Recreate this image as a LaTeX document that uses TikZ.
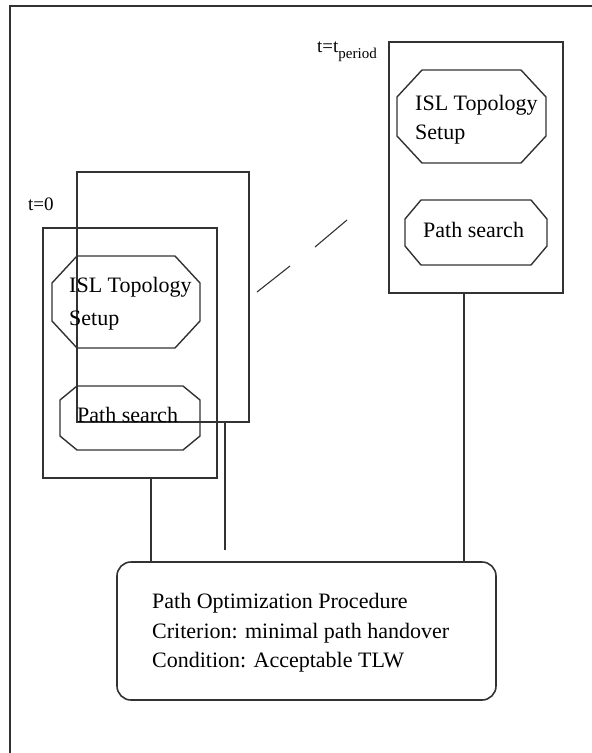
\documentclass[tikz,border=0pt]{standalone}
\usepackage{fontspec}
\setmainfont{Liberation Serif}
\definecolor{ink}{RGB}{50,50,50}
\tikzset{
  frame/.style={draw=ink, line width=1.6pt, rectangle, inner sep=0pt, outer sep=0pt},
  slot/.style={rectangle, inner sep=0pt, outer sep=0pt},
  oct/.style={draw=ink, line width=1.4pt, line join=miter},
  wire/.style={draw=ink, line width=1.6pt},
  hint/.style={draw=ink, line width=1.1pt},
  lbl/.style={inner sep=0pt, anchor=base west, font=\fontsize{22}{26}\selectfont},
  tlbl/.style={inner sep=0pt, anchor=base west, font=\fontsize{19}{22}\selectfont},
}
% octagon outline drawn around a named (invisible) node: node, chamfer x, chamfer y
\newcommand\octoutline[3]{%
  \draw[oct] ([xshift=#2]#1.north west) -- ([xshift=-#2]#1.north east)
    -- ([yshift=-#3]#1.north east) -- ([yshift=#3]#1.south east)
    -- ([xshift=-#2]#1.south east) -- ([xshift=#2]#1.south west)
    -- ([yshift=#3]#1.south west) -- ([yshift=-#3]#1.north west) -- cycle;}
\begin{document}
\begin{tikzpicture}[x=1pt,y=-1pt]
  \useasboundingbox (0,0) rectangle (592,753);

  % page frame (left and top edges)
  \draw[wire] (10,753) -- (10,6) -- (592,6);

  % stage at t = t_period
  \node[frame, minimum width=174pt, minimum height=251pt] (late) at (476,167.5) {};
  \node[tlbl] (tlate) at (317,52) {t=t\raisebox{-6pt}{\fontsize{15}{17}\selectfont period}};
  \node[slot, minimum width=149pt, minimum height=93pt] (islB) at (471.5,116.5) {};
  \octoutline{islB}{25pt}{27pt}
  \node[lbl] (islBa) at (415,110) {ISL Topology};
  \node[lbl] (islBb) at (415,139) {Setup};
  \node[slot, minimum width=142pt, minimum height=65pt] (psB) at (476,232.5) {};
  \octoutline{psB}{16pt}{19pt}
  \node[lbl] (psBt) at (423,237) {Path search};

  % stages starting at t = 0 (back and front frames)
  \node[frame, minimum width=172pt, minimum height=250pt] (back) at (163,297) {};
  \node[frame, minimum width=174pt, minimum height=250pt] (front) at (130,353) {};
  \node[tlbl] (tzero) at (28,210) {t=0};
  \node[slot, minimum width=148pt, minimum height=92pt] (islA) at (126,302) {};
  \octoutline{islA}{25pt}{27pt}
  \node[lbl] (islAa) at (69,292) {ISL Topology};
  \node[lbl] (islAb) at (69,325) {Setup};
  \node[slot, minimum width=140pt, minimum height=64pt] (psA) at (130,418) {};
  \octoutline{psA}{17pt}{14pt}
  \node[lbl] (psAt) at (77,422) {Path search};

  % optimisation procedure
  \node[frame, rounded corners=14pt, minimum width=379pt, minimum height=138pt] (opt) at (306.5,631) {};
  \node[lbl] (optA) at (152,608) {Path Optimization Procedure};
  \node[lbl] (optB) at (152,638) {Criterion: minimal path handover};
  \node[lbl] (optC) at (152,667) {Condition: Acceptable TLW};

  % connectors
  \draw[wire] ([xshift=21pt]front.south) -- ([xshift=21pt]front.south |- opt.north);
  \coordinate (backend) at (225,550);
  \draw[wire] (back.south -| backend) -- (backend);
  \draw[wire] ([xshift=-12pt]late.south) -- ([xshift=-12pt]late.south |- opt.north);

  % broken link between the stages
  \coordinate (g1a) at (257,292);
  \coordinate (g1b) at (290,266);
  \coordinate (g2a) at (315,247);
  \coordinate (g2b) at (347,220);
  \draw[hint] (g1a) -- (g1b);
  \draw[hint] (g2a) -- (g2b);
\end{tikzpicture}
\end{document}
